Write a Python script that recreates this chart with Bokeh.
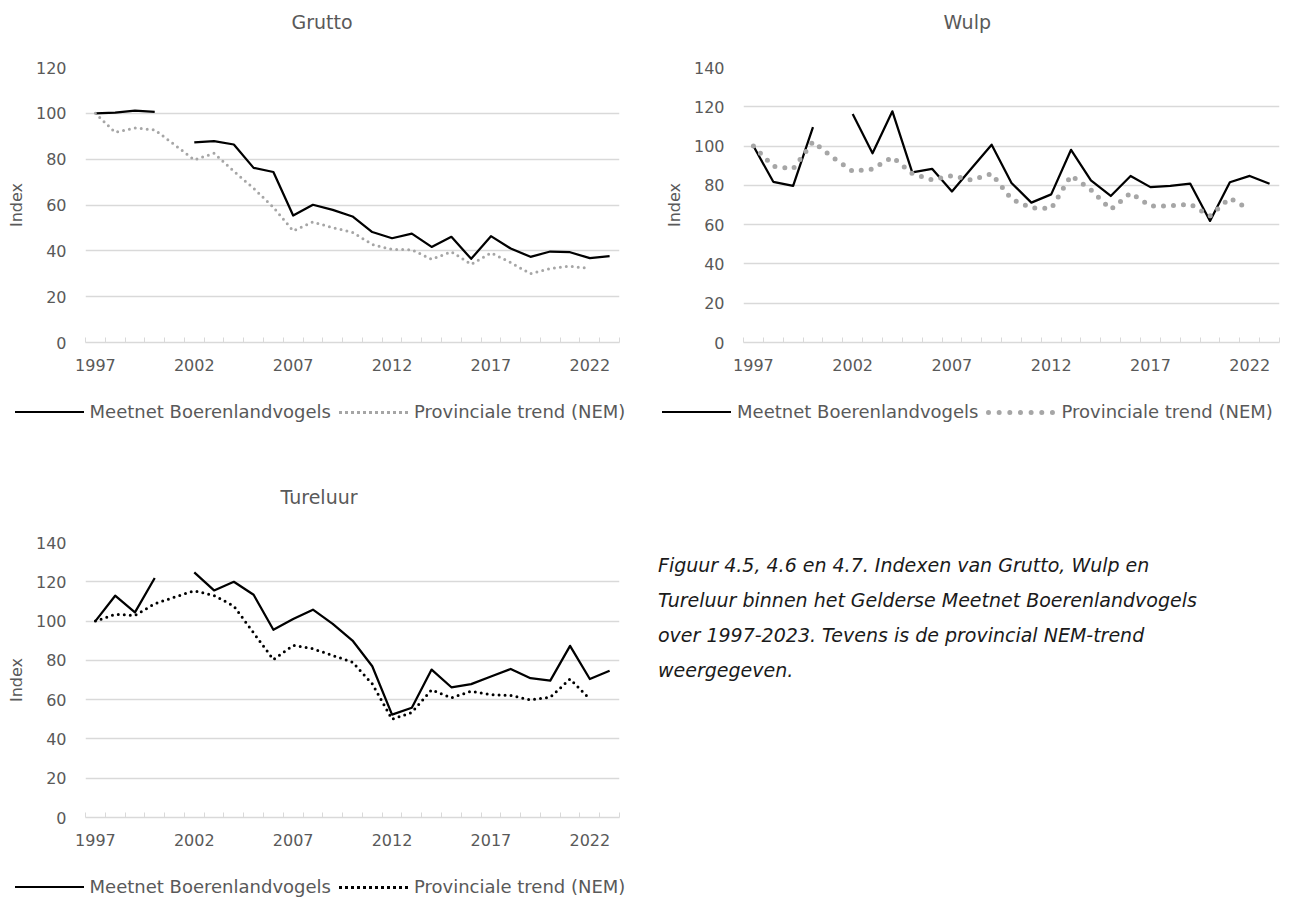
import numpy as np
from bokeh.plotting import figure
from bokeh.models import (Range1d, FixedTicker, SingleIntervalTicker, NumeralTickFormatter,
                          Title, LinearAxis, Div)
from bokeh.layouts import column, row
from bokeh.embed import file_html
from bokeh.resources import INLINE

nan = float("nan")

years = list(range(1997, 2024))
tick_years = [1997, 2002, 2007, 2012, 2017, 2022]

grutto_meetnet = [100.0, 100.3, 101.2, 100.6, nan, 87.3, 87.9, 86.4, 76.2, 74.4, 55.4, 60.1, 57.9,
                  55.0, 48.2, 45.5, 47.5, 41.7, 46.1, 36.5, 46.4, 41.0, 37.4, 39.7, 39.4, 36.8, 37.7]
grutto_nem = [100.0, 91.7, 93.6, 92.8, 86.3, 79.7, 82.6, 74.7, 67.3, 59.0, 48.7, 52.6, 50.1,
              48.1, 42.8, 40.6, 40.5, 36.3, 39.6, 34.1, 39.1, 34.9, 30.0, 32.3, 33.3, 32.3, nan]

wulp_meetnet = [100.0, 81.8, 79.7, 109.7, nan, 116.3, 96.3, 117.7, 86.6, 88.4, 76.9, 88.8, 100.7,
                81.2, 71.2, 75.4, 98.1, 82.5, 74.6, 84.8, 79.1, 79.7, 80.9, 61.9, 81.6, 84.8, 80.8]
wulp_nem = [100.0, 89.7, 88.4, 102.2, 94.2, 87.2, 88.3, 94.4, 86.0, 82.8, 84.9, 82.7, 85.9,
            73.0, 68.5, 68.2, 85.0, 77.7, 67.7, 76.1, 69.4, 69.6, 70.4, 64.5, 73.5, 67.7, nan]

tureluur_meetnet = [100.0, 112.9, 104.4, 121.9, nan, 124.8, 115.6, 120.0, 113.4, 95.6, 101.0, 105.8, 98.6,
                    90.1, 77.0, 52.4, 55.9, 75.3, 66.3, 67.9, 71.8, 75.6, 70.9, 69.7, 87.4, 70.5, 74.7]
tureluur_nem = [100.0, 103.4, 102.9, 108.8, 112.2, 115.4, 113.0, 107.7, 94.0, 80.4, 87.6, 85.9, 82.5,
                79.1, 68.0, 50.0, 53.5, 65.0, 60.9, 64.3, 62.6, 62.1, 59.9, 61.2, 70.5, 60.3, nan]

series_labels = ["Meetnet Boerenlandvogels", "Provinciale trend (NEM)"]
caption_lines = [
    "Figuur 4.5, 4.6 en 4.7. Indexen van Grutto, Wulp en",
    "Tureluur binnen het Gelderse Meetnet Boerenlandvogels",
    "over 1997-2023. Tevens is de provincial NEM-trend",
    "weergegeven.",
]

FONT = "DejaVu Sans"
TXT = "#595959"
GRID = "#D9D9D9"


def make_chart(title, meetnet, nem, y_max, nem_color, nem_width, nem_dash,
               frame_w, left, right, title_offset):
    p = figure(frame_width=frame_w, frame_height=275, title=None,
               min_border_left=left, min_border_right=right,
               min_border_top=67, min_border_bottom=53,
               x_range=Range1d(1996.5, 2023.5), y_range=Range1d(0, y_max),
               output_backend="svg", toolbar_location=None, tools="")
    p.outline_line_color = None

    xt = FixedTicker(ticks=tick_years,
                     minor_ticks=[y - 0.5 for y in years] + [years[-1] + 0.5])
    p.xaxis.ticker = xt
    p.xaxis.formatter = NumeralTickFormatter(format="0")
    p.xaxis.axis_line_color = GRID
    p.xaxis.axis_line_width = 1.3
    p.xaxis.major_tick_line_color = None
    p.xaxis.major_tick_out = 0
    p.xaxis.major_tick_in = 0
    p.xaxis.minor_tick_line_color = GRID
    p.xaxis.minor_tick_in = 5
    p.xaxis.minor_tick_out = 0
    p.xaxis.major_label_standoff = 16
    p.xaxis.major_label_text_font = FONT
    p.xaxis.major_label_text_font_size = "16px"
    p.xaxis.major_label_text_color = TXT

    p.yaxis.ticker = SingleIntervalTicker(interval=20, num_minor_ticks=0)
    p.yaxis.axis_line_color = None
    p.yaxis.major_tick_line_color = None
    p.yaxis.minor_tick_line_color = None
    p.yaxis.major_tick_out = 0
    p.yaxis.major_tick_in = 0
    p.yaxis.minor_tick_out = 0
    p.yaxis.minor_tick_in = 0
    p.yaxis.major_label_standoff = 19
    p.yaxis.major_label_text_font = FONT
    p.yaxis.major_label_text_font_size = "16px"
    p.yaxis.major_label_text_color = TXT
    p.yaxis.axis_label = "Index"
    p.yaxis.axis_label_text_font = FONT
    p.yaxis.axis_label_text_font_size = "16px"
    p.yaxis.axis_label_text_font_style = "normal"
    p.yaxis.axis_label_text_color = TXT
    p.yaxis.axis_label_standoff = 7

    p.xgrid.grid_line_color = None
    p.ygrid.grid_line_color = GRID
    p.ygrid.grid_line_width = 1.3

    # blank spacer between plot area and title (white tick at the right edge, no label)
    spacer = LinearAxis(ticker=FixedTicker(ticks=[years[-1]]), axis_line_color=None,
                        major_tick_line_color="white", minor_tick_line_color=None,
                        major_tick_out=35, major_tick_in=0, minor_tick_out=0,
                        major_label_standoff=0, major_label_text_font_size="1px",
                        major_label_overrides={years[-1]: ""})
    p.add_layout(spacer, "above")
    p.add_layout(Title(text=title, align="left", offset=title_offset, standoff=0,
                       text_font=FONT, text_font_size="19px", text_font_style="normal",
                       text_color=TXT), "above")

    x = np.array(years, dtype=float)
    p.line(x, np.array(meetnet, dtype=float), line_color="black", line_width=2.25,
           line_join="round")
    p.line(x, np.array(nem, dtype=float), line_color=nem_color, line_width=nem_width,
           line_dash=nem_dash, line_cap="round", line_join="round")
    return p


def legend_div(width, height, nem_css):
    html = (
        "<div style=\"display:flex;align-items:center;justify-content:center;height:34px;"
        f"width:{width}px;font-family:'{FONT}';font-size:18px;color:{TXT};white-space:nowrap;\">"
        "<span style=\"display:inline-block;width:69px;border-top:2.25px solid #000;\"></span>"
        f"<span style=\"margin-left:6px;margin-right:8px;\">{series_labels[0]}</span>"
        f"<span style=\"display:inline-block;width:69px;border-top:{nem_css};\"></span>"
        f"<span style=\"margin-left:6px;\">{series_labels[1]}</span>"
        "</div>"
    )
    return Div(text=html, width=width, height=height, margin=0)


p1 = make_chart("Grutto", grutto_meetnet, grutto_nem, 120, "#A6A6A6", 3, "0 6",
                534, 85, 21, 206)
p2 = make_chart("Wulp", wulp_meetnet, wulp_nem, 140, "#A6A6A6", 5, "0 10",
                536, 103, 16, 200)
p3 = make_chart("Tureluur", tureluur_meetnet, tureluur_nem, 140, "black", 3, "0 6",
                534, 85, 21, 195)

leg1 = legend_div(640, 80, "3px dotted #A6A6A6")
leg2 = legend_div(655, 80, "5px dotted #A6A6A6")
leg3 = legend_div(640, 29, "3px dotted #000")

caption_html = (
    f"<div style=\"font-family:'{FONT}';font-style:italic;font-size:19px;line-height:35px;"
    "color:#1A1A1A;padding-left:18px;padding-top:73px;white-space:nowrap;\">"
    + "<br>".join(caption_lines) + "</div>"
)
caption = Div(text=caption_html, width=655, height=424, margin=0)

layout = column(
    row(column(p1, leg1, spacing=0), column(p2, leg2, spacing=0), spacing=0),
    row(column(p3, leg3, spacing=0), caption, spacing=0),
    spacing=0,
)

open("out.html", "w").write(file_html(layout, INLINE))
